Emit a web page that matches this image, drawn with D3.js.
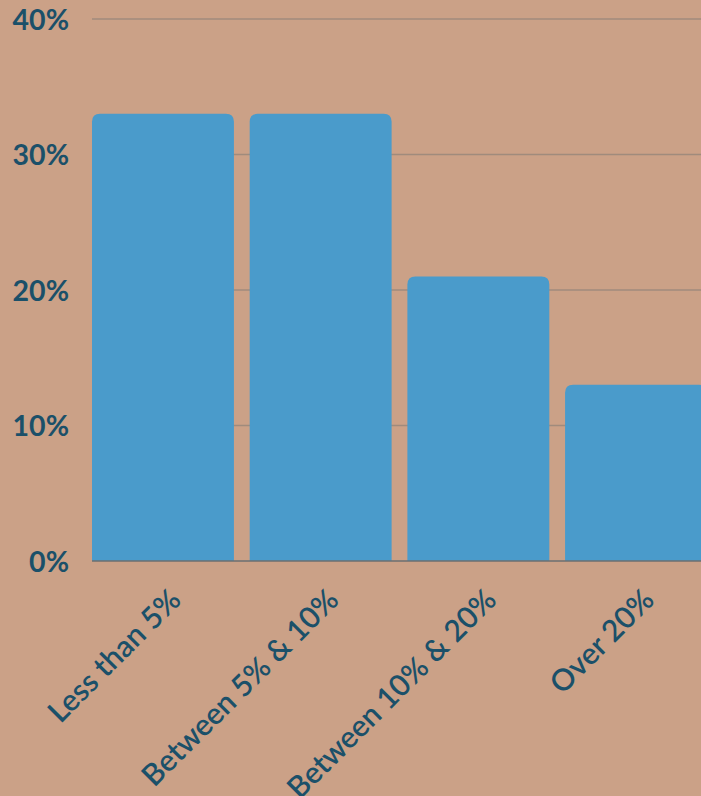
<!DOCTYPE html>
<html><head><meta charset="utf-8">
<script src="https://cdn.jsdelivr.net/npm/d3@7"></script>
<style>
html,body{margin:0;padding:0;background:#cba187;overflow:hidden;}
svg{display:block;}
</style></head>
<body>
<svg id="c" width="701" height="796"></svg>
<script>
const categories = ["Less than 5%", "Between 5% & 10%", "Between 10% & 20%", "Over 20%"];
const values = [33, 33, 21, 13];
const yTicks = [0, 10, 20, 30, 40];
const yTickLabels = ["0%", "10%", "20%", "30%", "40%"];

(function () {
const svg = d3.select("#c");
const mLeft = 92, mRight = 707, mTop = 19, mBottom = 561;
const x = d3.scaleBand().domain(categories).range([mLeft, mRight]).paddingInner(0.1).paddingOuter(0);
const y = d3.scaleLinear().domain([0, 40]).range([mBottom, mTop]);

svg.append("rect").attr("width", 701).attr("height", 796).attr("fill", "#cba187");

// gridlines
svg.append("g").selectAll("line").data(yTicks.filter(d => d > 0)).join("line")
  .attr("x1", mLeft).attr("x2", 701)
  .attr("y1", d => y(d)).attr("y2", d => y(d))
  .attr("stroke", "#a08b7c").attr("stroke-width", 1.5);

// y labels
svg.append("g").selectAll("text").data(yTicks).join("text")
  .attr("x", 69).attr("y", d => y(d))
  .attr("dy", "0.37em")
  .attr("text-anchor", "end")
  .attr("font-family", "Lato, sans-serif").attr("font-weight", 700)
  .attr("font-size", 28.5).attr("fill", "#1b5069")
  .text((d, i) => yTickLabels[i]);

// bars with rounded top corners
const r = 8;
function barPath(x0, w, yTop, yBot) {
  const rr = Math.min(r, w / 2, (yBot - yTop));
  return `M${x0},${yBot}V${yTop + rr}Q${x0},${yTop} ${x0 + rr},${yTop}H${x0 + w - rr}Q${x0 + w},${yTop} ${x0 + w},${yTop + rr}V${yBot}Z`;
}
svg.append("g").selectAll("path").data(values).join("path")
  .attr("d", (d, i) => barPath(x(categories[i]), x.bandwidth(), y(d), y(0)))
  .attr("fill", "#4a9bcb");

// baseline
svg.append("line").attr("x1", mLeft).attr("x2", 701).attr("y1", y(0)).attr("y2", y(0))
  .attr("stroke", "#6b6f70").attr("stroke-width", 1.5);

// x labels
svg.append("g").selectAll("text").data(categories).join("text")
  .attr("transform", d => `translate(${x(d) + x.bandwidth() / 2 + 5},${mBottom + 26}) rotate(-45)`)
  .attr("text-anchor", "end")
  .attr("dy", "0.7em")
  .attr("font-family", "Lato, sans-serif").attr("font-weight", 600)
  .attr("font-size", 30).attr("fill", "#1b5069")
  .text(d => d);
})();
</script>
</body></html>
